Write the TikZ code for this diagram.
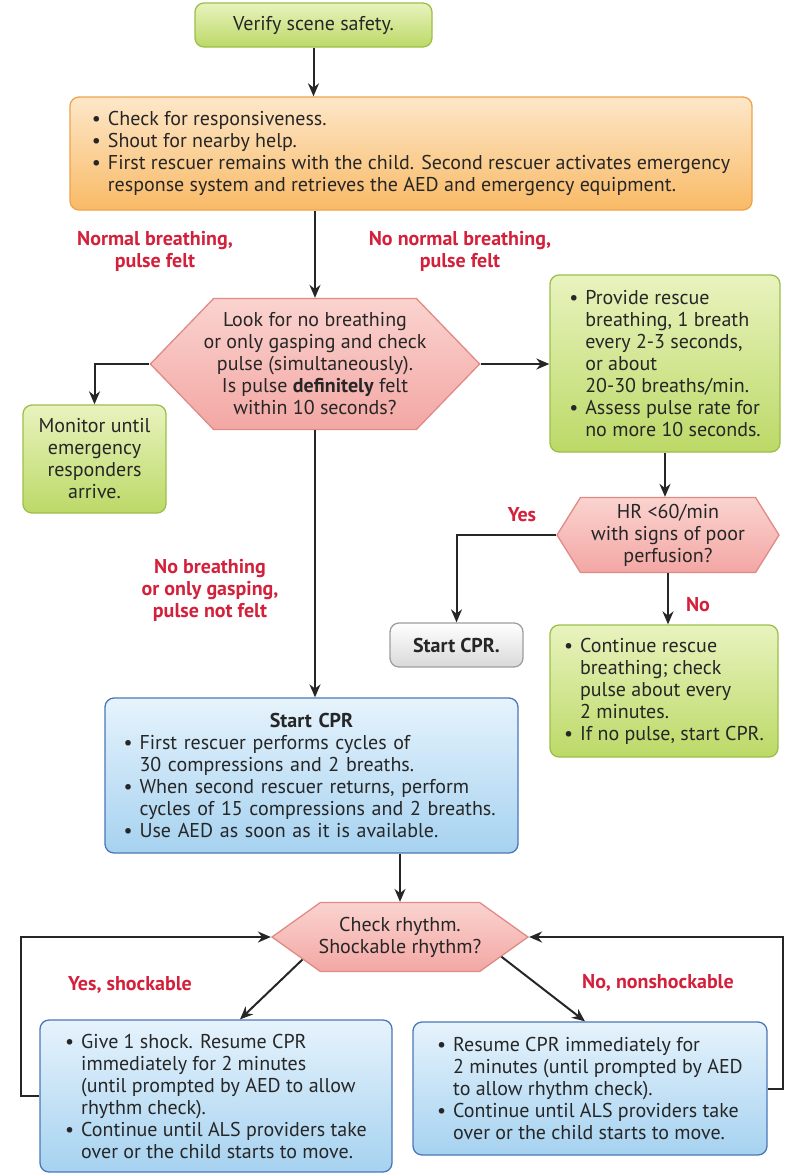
\documentclass[tikz,border=0pt]{standalone}
\usepackage{fontspec}
\setmainfont{PT Sans}
\usetikzlibrary{arrows.meta,shapes.symbols,positioning,calc}

\definecolor{txt}{HTML}{262626}
\definecolor{greentop}{HTML}{E8F3BE}
\definecolor{greenbot}{HTML}{BCD967}
\definecolor{greenline}{HTML}{9CBF4A}
\definecolor{orangetop}{HTML}{FDE7C9}
\definecolor{orangebot}{HTML}{F9BA66}
\definecolor{orangeline}{HTML}{EFA24A}
\definecolor{redtop}{HTML}{FAD3CF}
\definecolor{redbot}{HTML}{F3A7A4}
\definecolor{redline}{HTML}{E08A86}
\definecolor{bluetop}{HTML}{E6F3FC}
\definecolor{bluebot}{HTML}{A6D2F0}
\definecolor{blueline}{HTML}{4A77B8}
\definecolor{greybot}{HTML}{D9D9D9}
\definecolor{greyline}{HTML}{9E9E9E}
\definecolor{lblred}{HTML}{D3213C}

\newcommand{\bodyfont}{\fontsize{20}{22}\selectfont}
\newcommand{\bl}[1]{\makebox[16pt][l]{\textbullet}#1}
\newcommand{\cl}[1]{\hspace*{16pt}#1}

\tikzset{
    box/.style={draw, rounded corners=9pt, line width=1.3pt, text=txt, inner sep=0pt},
    gbox/.style={box, draw=greenline, top color=greentop, bottom color=greenbot},
    obox/.style={box, draw=orangeline, top color=orangetop, bottom color=orangebot},
    bbox/.style={box, draw=blueline, top color=bluetop, bottom color=bluebot},
    wbox/.style={box, draw=greyline, top color=white, bottom color=greybot},
    hexa/.style={signal, signal to=west and east, draw=redline, line width=1.3pt,
        top color=redtop, bottom color=redbot, text=txt, align=center, inner sep=0pt, inner xsep=-10pt},
    lbl/.style={text=lblred, font=\bodyfont\bfseries, align=center},
    flow/.style={-{Stealth[length=13pt, width=11pt]}, line width=2pt, draw=black!85}
}

\begin{document}
\begin{tikzpicture}[x=1pt, y=-1pt, font=\bodyfont]
\useasboundingbox (0,0) rectangle (795,1175);

% top of the chart
\node[gbox, minimum width=237pt, minimum height=44pt] (safety) at (313.5,25) {Verify scene safety.};
\node[obox, minimum width=682pt, minimum height=113pt, align=left] (check) at (411,153.5)
    {\bl{Check for responsiveness.}\\
     \bl{Shout for nearby help.}\\
     \bl{First rescuer remains with the child. Second rescuer activates emergency}\\
     \cl{response system and retrieves the AED and emergency equipment.}};

\node[lbl] (normal) at (155,251) {Normal breathing,\\pulse felt};
\node[lbl] (nonormal) at (460,251) {No normal breathing,\\pulse felt};

\node[hexa, minimum width=324pt, minimum height=131pt, signal pointer angle=92] (look) at (315,364)
    {Look for no breathing\\or only gasping and check\\pulse (simultaneously).\\Is pulse \textbf{definitely} felt\\within 10 seconds?};

\node[gbox, minimum width=143pt, minimum height=108pt, align=center] (monitor) at (94.5,459)
    {Monitor until\\emergency\\responders\\arrive.};

% rescue breathing branch
\node[gbox, minimum width=230pt, minimum height=177pt, align=left] (breath) at (665,363.5)
    {\bl{Provide rescue}\\
     \cl{breathing, 1 breath}\\
     \cl{every 2-3 seconds,}\\
     \cl{or about}\\
     \cl{20-30 breaths/min.}\\
     \bl{Assess pulse rate for}\\
     \cl{no more 10 seconds.}};

\node[hexa, minimum width=222pt, minimum height=75pt, signal pointer angle=116] (hr) at (668,535)
    {HR <60/min\\with signs of poor\\perfusion?};
\node[lbl] (yes) at (522,515) {Yes};
\node[wbox, minimum width=133pt, minimum height=44pt] (cpr2) at (456.5,645) {\textbf{Start CPR.}};
\node[lbl] (no) at (698,605) {No};
\node[gbox, minimum width=228pt, minimum height=132pt, align=left] (cont) at (664,691)
    {\bl{Continue rescue}\\
     \cl{breathing; check}\\
     \cl{pulse about every}\\
     \cl{2 minutes.}\\
     \bl{If no pulse, start CPR.}};

% CPR
\node[lbl] (gasp) at (210,590) {No breathing\\or only gasping,\\pulse not felt};
\node[bbox, minimum width=413pt, minimum height=155pt, text width=376pt, align=left] (cpr) at (311.5,775.5)
    {\makebox[376pt][c]{\textbf{Start CPR}}\\
     \bl{First rescuer performs cycles of}\\
     \cl{30 compressions and 2 breaths.}\\
     \bl{When second rescuer returns, perform}\\
     \cl{cycles of 15 compressions and 2 breaths.}\\
     \bl{Use AED as soon as it is available.}};

% rhythm check
\node[hexa, minimum width=256pt, minimum height=69pt, signal pointer angle=71] (rhythm) at (400,937)
    {Check rhythm.\\Shockable rhythm?};
\node[lbl] (yshock) at (130,985) {Yes, shockable};
\node[lbl] (nshock) at (658,983) {No, nonshockable};

\node[bbox, minimum width=352pt, minimum height=152pt, align=left] (shock) at (216,1096)
    {\bl{Give 1 shock. Resume CPR}\\
     \cl{immediately for 2 minutes}\\
     \cl{(until prompted by AED to allow}\\
     \cl{rhythm check).}\\
     \bl{Continue until ALS providers take}\\
     \cl{over or the child starts to move.}};
\node[bbox, minimum width=354pt, minimum height=133pt, align=left] (resume) at (590,1088.5)
    {\bl{Resume CPR immediately for}\\
     \cl{2 minutes (until prompted by AED}\\
     \cl{to allow rhythm check).}\\
     \bl{Continue until ALS providers take}\\
     \cl{over or the child starts to move.}};

% connectors
\draw[flow] (safety.south) -- (safety.south |- check.north);
\draw[flow] (check.south -| look.north) -- (look.north);
\draw[flow] (look.west) -| (monitor.north);
\draw[flow] (look.east) -- (look.east -| breath.west);
\draw[flow] (look.south) -- (look.south |- cpr.north);
\draw[flow] (breath.south) -- (breath.south |- hr.north);
\draw[flow] (hr.west) -| (cpr2.north);
\draw[flow] (hr.south) -- (hr.south |- cont.north);
\draw[flow] (cpr.south -| rhythm.north) -- (rhythm.north);
\draw[flow] (rhythm.193) -- ([xshift=24pt]shock.north);
\draw[flow] (rhythm.349) -- ([xshift=-5pt]resume.north);
\draw[flow] (shock.west) -- ++(-18,0) |- (rhythm.west);
\draw[flow] (resume.east) -- ++(15,0) |- (rhythm.east);
\end{tikzpicture}
\end{document}
